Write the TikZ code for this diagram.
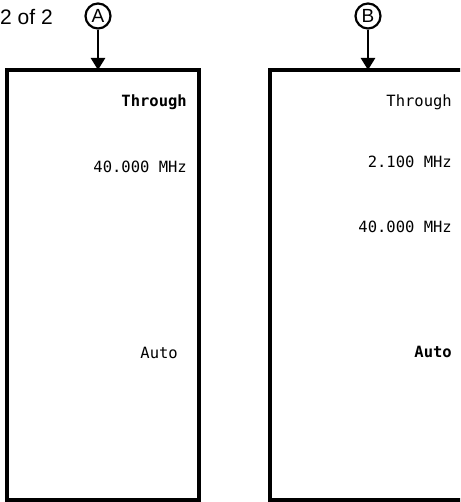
\documentclass[tikz,border=0pt]{standalone}
\usepackage{fontspec}
\setmainfont{Liberation Sans}
\setmonofont{DejaVu Sans Mono}
\usetikzlibrary{arrows.meta, positioning}

\begin{document}
\begin{tikzpicture}[
    x=1pt, y=-1pt,
    panel/.style={draw, line width=3.5pt, outer sep=0pt, inner sep=0pt,
                  minimum width=192pt, minimum height=430pt, anchor=north west},
    marker/.style={circle, draw, line width=2.2pt, minimum size=25pt, inner sep=0pt,
                   font=\fontsize{19}{19}\selectfont},
    reading/.style={anchor=base east, inner sep=0pt, font=\fontsize{15.5}{15.5}\selectfont\ttfamily},
    feed/.style={line width=2.5pt, -{Triangle[width=14pt, length=12pt]}}
]
    \useasboundingbox (0,0) rectangle (460,502);
    \clip (0,0) rectangle (460,502);

    \node[anchor=base west, inner sep=0pt, font=\fontsize{21}{21}\selectfont] (page) at (0,25) {2 of 2};

    \node[panel] (pa) at (7,70) {};
    \node[panel, minimum width=220pt] (pb) at (270,70) {};

    \node[marker] (ma) at (98,16) {A};
    \node[marker] (mb) at (368,16) {B};
    \draw[feed] (ma) -- (ma |- pa.north);
    \draw[feed] (mb) -- (mb |- pb.north);

    % left panel
    \node[reading, font=\fontsize{15.5}{15.5}\selectfont\ttfamily\bfseries] (a1) at (187,107) {Through};
    \node[reading] (a2) at (187,173) {40.000 MHz};
    \node[reading] (a3) at (178,358) {Auto};

    % right panel
    \node[reading] (b1) at (452,107) {Through};
    \node[reading] (b2) at (452,168) {2.100 MHz};
    \node[reading] (b3) at (452,233) {40.000 MHz};
    \node[reading, font=\fontsize{15.5}{15.5}\selectfont\ttfamily\bfseries] (b4) at (452,357) {Auto};
\end{tikzpicture}
\end{document}
